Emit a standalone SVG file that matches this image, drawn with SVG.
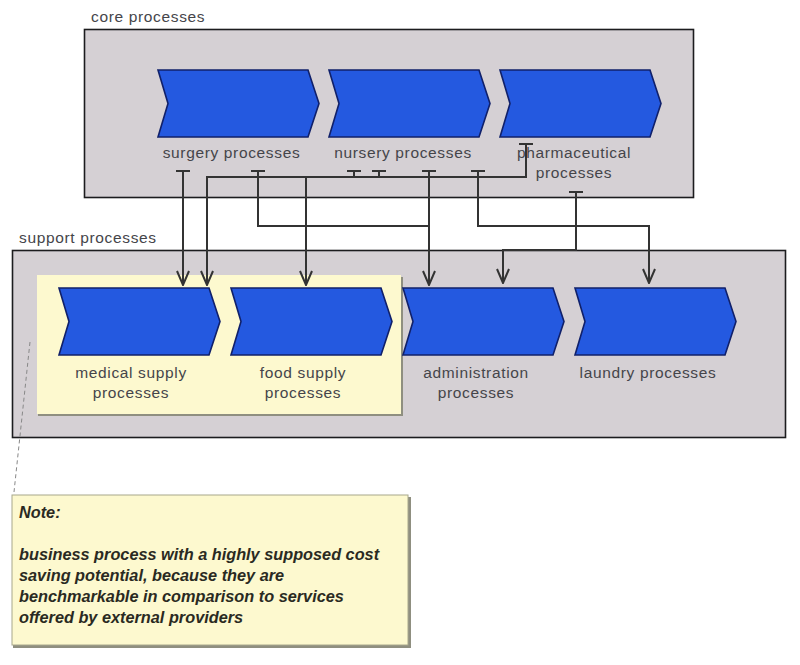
<svg xmlns="http://www.w3.org/2000/svg" width="800" height="665" viewBox="0 0 800 665">
<style>
.pool{fill:#d5d0d4;stroke:#1c1c1e;stroke-width:1.6}
.yellow{fill:#fdf9cf;stroke:none}
.shadow{fill:#8f8f80}
.chev{fill:#2459e0;stroke:#10206a;stroke-width:1.6;stroke-linejoin:miter}
text{font-family:"Liberation Sans",Arial,sans-serif;font-size:15.5px;fill:#45454a;letter-spacing:.65px}
.c{text-anchor:middle}
.note{font-style:italic;font-weight:bold;font-size:16.3px;fill:#2a2a22;letter-spacing:0}
.conn{fill:none;stroke:#333;stroke-width:2}
.tee{fill:none;stroke:#333;stroke-width:2}
.dash{fill:none;stroke:#888;stroke-width:1;stroke-dasharray:4 3}
</style>
<defs>
<marker id="arrow" viewBox="0 0 16 14" refX="15" refY="7" markerWidth="16" markerHeight="14" markerUnits="userSpaceOnUse" orient="auto">
<path d="M1 1 L15 7 L1 13" fill="none" stroke="#333" stroke-width="2"/>
</marker>
<path id="ch" d="M0 0 H150 L161 33.500 L150 67 H0 L10 33.500 Z"/>
</defs>
<rect width="800" height="665" fill="#fff"/>
<g id="core-pool">
<rect class="pool" x="84.500" y="29.500" width="609" height="168"/>
<text x="91" y="22">core processes</text>
</g>
<g id="support-pool">
<rect class="pool" x="12.500" y="250.500" width="773" height="187"/>
<text x="19" y="243">support processes</text>
</g>
<g id="benchmark-zone">
<rect class="shadow" x="38" y="277" width="365" height="139"/>
<rect class="yellow" x="37" y="275" width="364" height="139"/>
</g>
<g id="surgery">
<use href="#ch" class="chev" x="158" y="70"/>
<text class="c" x="231.500" y="158">surgery processes</text>
</g>
<g id="nursery">
<use href="#ch" class="chev" x="329" y="70"/>
<text class="c" x="403" y="158">nursery processes</text>
</g>
<g id="pharmaceutical">
<use href="#ch" class="chev" x="500" y="70"/>
<text class="c" x="574" y="158">pharmaceutical</text>
<text class="c" x="574" y="178">processes</text>
</g>
<g id="medical">
<use href="#ch" class="chev" x="59" y="288"/>
<text class="c" x="131" y="378">medical supply</text>
<text class="c" x="131" y="398">processes</text>
</g>
<g id="food">
<use href="#ch" class="chev" x="231" y="288"/>
<text class="c" x="303" y="378">food supply</text>
<text class="c" x="303" y="398">processes</text>
</g>
<g id="administration">
<use href="#ch" class="chev" x="403" y="288"/>
<text class="c" x="476" y="378">administration</text>
<text class="c" x="476" y="398">processes</text>
</g>
<g id="laundry">
<use href="#ch" class="chev" x="575" y="288"/>
<text class="c" x="648" y="378">laundry processes</text>
</g>
<g id="connectors">
<path class="conn" d="M183 171 V285" marker-end="url(#arrow)"/>
<path class="conn" d="M258 171 V226 H429"/>
<path class="conn" d="M526 144 V177 H207 V285" marker-end="url(#arrow)"/>
<path class="conn" d="M306 177 V285" marker-end="url(#arrow)"/>
<path class="conn" d="M354 171 V177 M379 171 V177"/>
<path class="conn" d="M429 171 V285" marker-end="url(#arrow)"/>
<path class="conn" d="M478 171 V226 H649 V283" marker-end="url(#arrow)"/>
<path class="conn" d="M576 192 V250 H503 V283" marker-end="url(#arrow)"/>
<path class="tee" d="M176 171 H190 M251 171 H265 M347 171 H361 M372 171 H386 M422 171 H436 M471 171 H485 M519 144 H533 M569 192 H583"/>
<path class="dash" d="M30 342 L14 492"/>
</g>
<g id="note">
<rect class="shadow" x="13" y="497" width="398" height="151"/>
<rect x="12" y="495" width="396" height="150" fill="#fdf9cf" stroke="#a8a88c"/>
<text class="note" x="19" y="518">Note:</text>
<text class="note" x="19" y="560">business process with a highly supposed cost</text>
<text class="note" x="19" y="581">saving potential, because they are</text>
<text class="note" x="19" y="602">benchmarkable in comparison to services</text>
<text class="note" x="19" y="623">offered by external providers</text>
</g>
</svg>
